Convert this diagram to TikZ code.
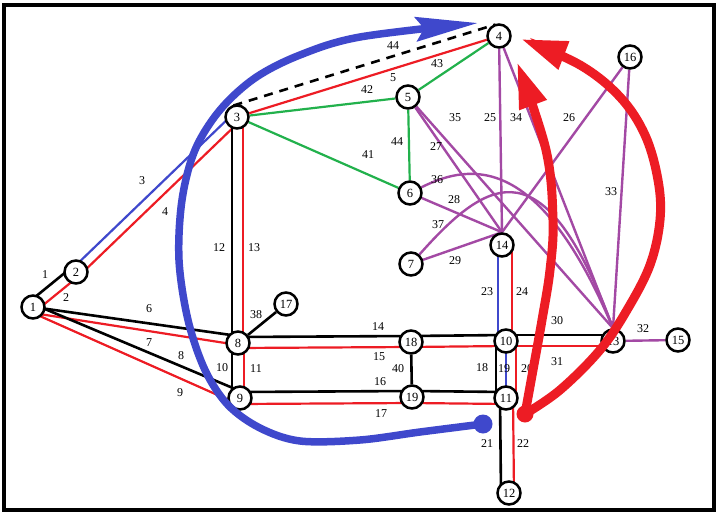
\documentclass[tikz,border=0pt]{standalone}
\usepackage{fontspec}
\setmainfont{Liberation Serif}
\usetikzlibrary{arrows.meta,calc}
\definecolor{pred}{RGB}{237,28,36}
\definecolor{pblue}{RGB}{63,72,204}
\definecolor{ppurple}{RGB}{163,73,164}
\definecolor{pgreen}{RGB}{34,177,76}
\begin{document}
\begin{tikzpicture}[x=1pt,y=-1pt,
 vx/.style={circle,draw=black,line width=2.5pt,fill=white,minimum size=23pt,inner sep=0pt,font=\fontsize{12.5}{12.5}\selectfont},
 lab/.style={font=\fontsize{12}{12}\selectfont,inner sep=0pt},
 bk/.style={draw=black,line width=2.6pt},
 rd/.style={draw=pred,line width=2.2pt},
 bl/.style={draw=pblue,line width=2.2pt},
 pu/.style={draw=ppurple,line width=2.4pt},
 gr/.style={draw=pgreen,line width=2.2pt},
 dsh/.style={draw=black,line width=2.6pt,dash pattern=on 9pt off 7pt},
 fatblue/.style={draw=pblue,line width=7.5pt},
 fatred/.style={draw=pred,line width=9pt},
 ]
\useasboundingbox (0,0) rectangle (719,513);
\fill[white] (0,0) rectangle (719,513);
\draw[line width=4pt] (4,5) rectangle (714,509.5);

% vertex positions
\coordinate (p1) at (33,307);
\coordinate (p2) at (76,272);
\coordinate (p3) at (237,117);
\coordinate (p4) at (499,36);
\coordinate (p5) at (408,97);
\coordinate (p6) at (410,193);
\coordinate (p7) at (411,264);
\coordinate (p8) at (238,343);
\coordinate (p9) at (240,398);
\coordinate (p10) at (506,341);
\coordinate (p11) at (506,398);
\coordinate (p12) at (509,493);
\coordinate (p13) at (613,341);
\coordinate (p14) at (502,245);
\coordinate (p15) at (678,340);
\coordinate (p16) at (630,57);
\coordinate (p17) at (286,304);
\coordinate (p18) at (411,342);
\coordinate (p19) at (412,397);

\foreach \i in {1,...,19} {\node[vx,draw=none,fill=none] (n\i) at (p\i) {};}

% black / red / blue edges
\draw[bk] ([xshift=-4pt,yshift=5pt]n1.center) -- ([xshift=-4pt,yshift=5pt]n2.center);
\draw[rd] ([xshift=3.5pt,yshift=-3.5pt]n1.center) -- ([xshift=3.5pt,yshift=-3.5pt]n2.center) -- ([xshift=3.5pt,yshift=-3.5pt]n3.center);
\draw[bl] ([xshift=-3.5pt,yshift=3.5pt]n2.center) -- ([xshift=-3.5pt,yshift=3.5pt]n3.center);
\draw[bk] (n1.center) -- ([yshift=7pt]n8.center);
\draw[rd] ([yshift=-6pt]n1.center) -- ([yshift=-2pt]n8.center);
\draw[bk] ([yshift=3pt]n1.center) -- ([yshift=7pt]n9.center);
\draw[rd] ([yshift=-6pt]n1.center) -- ([yshift=-7pt]n9.center);
\draw[bk] ([xshift=-5pt]n3.center) -- ([xshift=-6pt]n8.center);
\draw[rd] ([xshift=6pt]n3.center) -- ([xshift=5pt]n8.center);
\draw[bk] ([xshift=-6pt]n8.center) -- ([xshift=-8pt]n9.center);
\draw[rd] ([xshift=6pt]n8.center) -- ([xshift=4pt]n9.center);
\draw[bk] (n8) -- (n17);
\foreach \a/\b in {8/18,18/10,10/13} {
  \draw[bk] ([yshift=6pt]n\a.center) -- ([yshift=6pt]n\b.center);
  \draw[rd] ([yshift=-5pt]n\a.center) -- ([yshift=-5pt]n\b.center);
}
\foreach \a/\b in {9/19,19/11} {
  \draw[bk] ([yshift=6pt]n\a.center) -- ([yshift=6pt]n\b.center);
  \draw[rd] ([yshift=-6pt]n\a.center) -- ([yshift=-6pt]n\b.center);
}
\draw[bk] (n18) -- (n19);
\draw[bk] ([xshift=-10pt]n10.center) -- ([xshift=-10pt]n11.center);
\draw[bl] (n10.center) -- (n11.center);
\draw[rd] ([xshift=10pt]n10.center) -- ([xshift=10pt]n11.center);
\draw[bl] ([xshift=-4pt]n14.center) -- ([xshift=-8pt]n10.center);
\draw[rd] ([xshift=10pt]n14.center) -- ([xshift=6pt]n10.center);
\draw[bk] ([xshift=-6pt]n11.center) -- ([xshift=-8pt]n12.center);
\draw[rd] ([xshift=7pt]n11.center) -- ([xshift=5pt]n12.center);

% top edges
\draw[dsh] ([xshift=-3.5pt,yshift=11.5pt]n3.center) -- ([xshift=-3.5pt,yshift=11.5pt]n4.center);
\draw[rd] (n3) -- (n4);
\draw[gr] (n3) -- (n5);
\draw[gr] (n3) -- (n6);
\draw[gr] (n5) -- (n6);
\draw[gr] (n5) -- (n4);

% purple edges
\draw[pu] (n4) -- (n14.north);
\draw[pu] (n4) -- (n13.north);
\draw[pu] (n5) -- (n14.north);
\draw[pu] (n5) -- (n13.north);
\draw[pu] (n6) -- (n14.north);
\draw[pu] (n7) -- (n14.north);
\draw[pu] (n16) -- (n14.north);
\draw[pu] (n16) -- (n13.north);
\draw[pu] (n13) -- (n15);
\draw[pu] (n6) .. controls (472,162) and (540,155) .. (n13.north);
\draw[pu] (n7) .. controls (490,175) and (545,145) .. (n13.north);

% vertices
\foreach \i in {1,...,19} {\node[vx] (v\i) at (p\i) {\i};}

% edge labels
\foreach \t/\x/\y/\nm in {1/45/275/l1, 2/66/298/l2, 3/142/181/l3, 4/165/212/l4, 5/393/78/l5,
  6/149/309/l6, 7/149/343/l7, 8/181/356/l8, 9/180/393/l9, 10/222/368/l10, 11/256/369/l11,
  12/219/248/l12, 13/254/248/l13, 14/378/327/l14, 15/379/357/l15, 16/380/382/l16, 17/381/414/l17,
  18/482/368/l18, 19/504/369/l19, 20/527/369/l20, 21/487/444/l21, 22/523/444/l22, 23/487/292/l23,
  24/522/292/l24, 25/490/118/l25, 26/569/118/l26, 27/436/147/l27, 28/454/200/l28, 29/455/261/l29,
  30/557/321/l30, 31/557/362/l31, 32/643/329/l32, 33/611/192/l33, 34/516/118/l34, 35/455/118/l35,
  36/437/180/l36, 37/438/225/l37, 38/256/315/l38, 40/398/369/l40, 41/368/155/l41, 42/367/90/l42,
  43/437/64/l43, 44/393/46/l44a, 44/397/142/l44b}
  {\node[lab] (\nm) at (\x,\y) {\t};}

% thick arrows
\coordinate (bs) at (483,424);
\coordinate (bt) at (478,23);
\fill[pblue] (bs) circle (9.5);
\draw[fatblue,-{Stealth[length=62pt,width=24pt,inset=8pt]}] plot[smooth,tension=0.55] coordinates {(bs) (420,432) (360,440) (300,441) (260,428) (228,405) (205,370) (188,320) (179,260) (182,200) (195,150) (220,110) (255,78) (300,55) (360,37) (bt)};
\coordinate (rs) at (525,414);
\coordinate (rt1) at (517,62);
\coordinate (rt2) at (521,39);
\fill[pred] (rs) circle (8.5);
\draw[fatred,-{Triangle[length=46pt,width=27pt]}] plot[smooth,tension=0.6] coordinates {(rs) (533,370) (542,320) (550,270) (553,220) (546,150) (rt1)};
\draw[fatred,-{Triangle[length=46pt,width=28pt]}] plot[smooth,tension=0.6] coordinates {(rs) (560,390) (600,350) (627,310) (650,265) (660,220) (658,180) (645,135) (620,97) (580,65) (rt2)};
\end{tikzpicture}
\end{document}
